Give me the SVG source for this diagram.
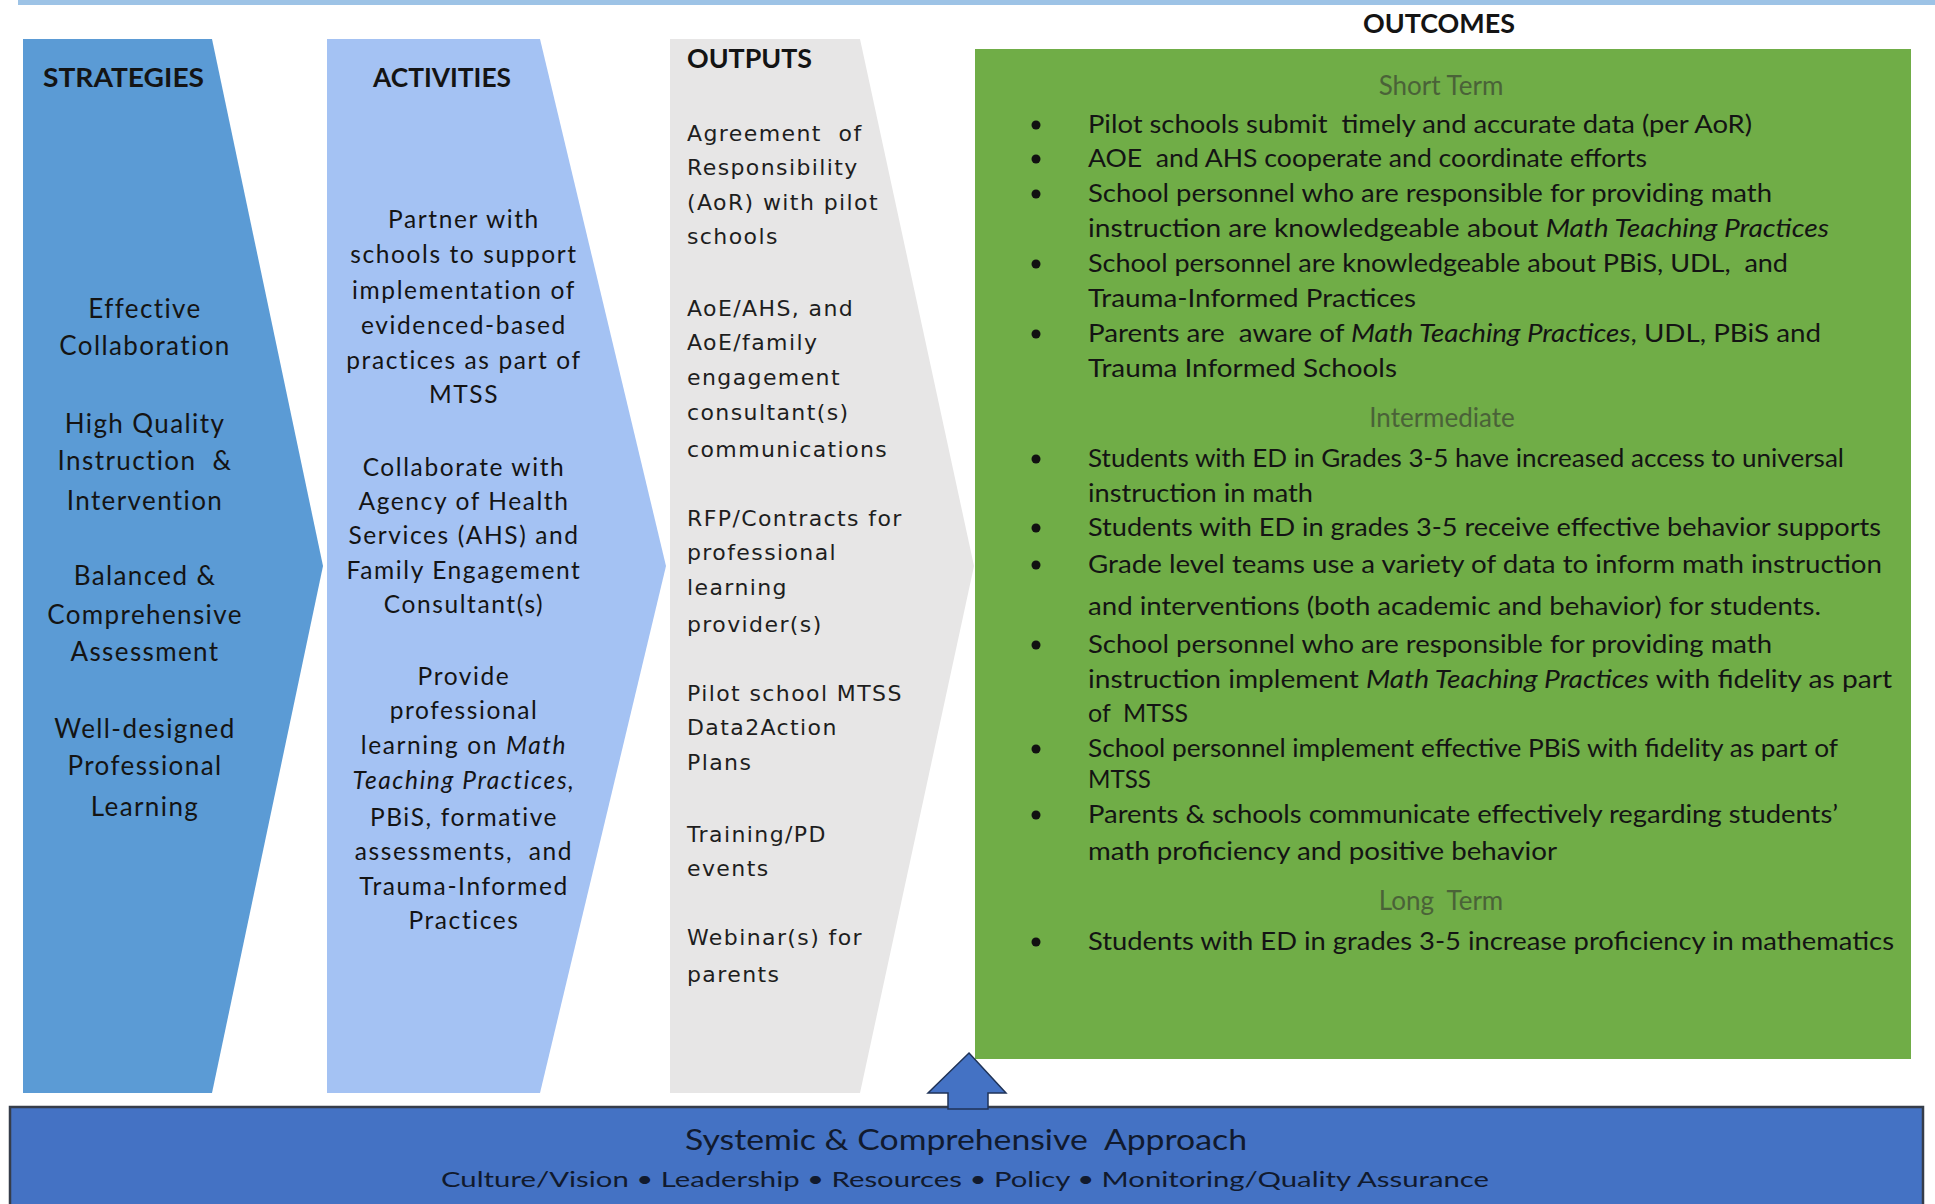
<svg xmlns="http://www.w3.org/2000/svg" width="1935" height="1204" viewBox="0 0 1935 1204">
  <style>
    text { font-family: Lato, "Liberation Sans", sans-serif; fill: #141414; white-space: pre; }
    .head { font-weight: bold; font-size: 26px; }
    .strat { font-size: 26px; text-anchor: middle; letter-spacing: 1.4px; }
    .act { font-size: 24.5px; text-anchor: middle; letter-spacing: 1.6px; }
    .out { font-family: "DejaVu Sans", Verdana, sans-serif; font-size: 22px; letter-spacing: 1.4px; fill: #1e1e1e; }
    .oc { font-size: 25px; }
    .sub { font-size: 26px; text-anchor: middle; fill: #4a6238; }
    .it { font-style: italic; }
    .bul { fill: #111; }
    .base1 { font-size: 29px; fill: #111a2e; }
    .base2 { font-size: 22px; fill: #111a2e; }
  </style>

  <!-- thin banner along the top edge -->
  <rect x="18" y="0" width="1917" height="5" fill="#9dc3e6"/>

  <g id="strategies">
    <polygon points="23,39 212,39 323,566 212,1093 23,1093" fill="#5b9bd5"/>
    <text class="head" x="43" y="87" textLength="161" lengthAdjust="spacingAndGlyphs">STRATEGIES</text>
    <text class="strat" x="145" y="318">Effective</text>
    <text class="strat" x="145" y="355">Collaboration</text>
    <text class="strat" x="145" y="433">High Quality</text>
    <text class="strat" x="145" y="470">Instruction  &amp;</text>
    <text class="strat" x="145" y="510">Intervention</text>
    <text class="strat" x="145" y="585">Balanced &amp;</text>
    <text class="strat" x="145" y="624">Comprehensive</text>
    <text class="strat" x="145" y="661">Assessment</text>
    <text class="strat" x="145" y="738">Well-designed</text>
    <text class="strat" x="145" y="775">Professional</text>
    <text class="strat" x="145" y="816">Learning</text>
  </g>

  <g id="activities">
    <polygon points="327,39 540,39 666,566 540,1093 327,1093" fill="#a4c2f3"/>
    <text class="head" x="373" y="87" textLength="138" lengthAdjust="spacingAndGlyphs">ACTIVITIES</text>
    <text class="act" x="464" y="228">Partner with</text>
    <text class="act" x="464" y="263">schools to support</text>
    <text class="act" x="464" y="299">implementation of</text>
    <text class="act" x="464" y="334">evidenced-based</text>
    <text class="act" x="464" y="369">practices as part of</text>
    <text class="act" x="464" y="403">MTSS</text>
    <text class="act" x="464" y="476">Collaborate with</text>
    <text class="act" x="464" y="510">Agency of Health</text>
    <text class="act" x="464" y="544">Services (AHS) and</text>
    <text class="act" x="464" y="579">Family Engagement</text>
    <text class="act" x="464" y="613">Consultant(s)</text>
    <text class="act" x="464" y="685">Provide</text>
    <text class="act" x="464" y="719">professional</text>
    <text class="act" x="464" y="754">learning on <tspan class="it">Math</tspan></text>
    <text class="act it" x="464" y="789">Teaching Practices,</text>
    <text class="act" x="464" y="826">PBiS, formative</text>
    <text class="act" x="464" y="860">assessments,  and</text>
    <text class="act" x="464" y="895">Trauma-Informed</text>
    <text class="act" x="464" y="929">Practices</text>
  </g>

  <g id="outputs">
    <polygon points="670,39 860,39 974,566 860,1093 670,1093" fill="#e7e6e6"/>
    <text class="head" x="687" y="68" textLength="125" lengthAdjust="spacingAndGlyphs">OUTPUTS</text>
    <text class="out" x="687" y="141">Agreement  of</text>
    <text class="out" x="687" y="175">Responsibility</text>
    <text class="out" x="687" y="210">(AoR) with pilot</text>
    <text class="out" x="687" y="244">schools</text>
    <text class="out" x="687" y="316">AoE/AHS, and</text>
    <text class="out" x="687" y="350">AoE/family</text>
    <text class="out" x="687" y="385">engagement</text>
    <text class="out" x="687" y="420">consultant(s)</text>
    <text class="out" x="687" y="457">communications</text>
    <text class="out" x="687" y="526">RFP/Contracts for</text>
    <text class="out" x="687" y="560">professional</text>
    <text class="out" x="687" y="595">learning</text>
    <text class="out" x="687" y="632">provider(s)</text>
    <text class="out" x="687" y="701">Pilot school MTSS</text>
    <text class="out" x="687" y="735">Data2Action</text>
    <text class="out" x="687" y="770">Plans</text>
    <text class="out" x="687" y="842">Training/PD</text>
    <text class="out" x="687" y="876">events</text>
    <text class="out" x="687" y="945">Webinar(s) for</text>
    <text class="out" x="687" y="982">parents</text>
  </g>

  <g id="outcomes">
    <text class="head" x="1363" y="33" font-size="23" textLength="152" lengthAdjust="spacingAndGlyphs">OUTCOMES</text>
    <rect x="975" y="49" width="936" height="1010" fill="#70ad47"/>

    <text class="sub" x="1441" y="95">Short Term</text>
    <text class="oc" x="1088" y="133" textLength="664" lengthAdjust="spacingAndGlyphs">Pilot schools submit  timely and accurate data (per AoR)</text>
    <text class="oc" x="1088" y="167" textLength="559" lengthAdjust="spacingAndGlyphs">AOE  and AHS cooperate and coordinate efforts</text>
    <text class="oc" x="1088" y="202" textLength="684" lengthAdjust="spacingAndGlyphs">School personnel who are responsible for providing math</text>
    <text class="oc" x="1088" y="237" textLength="741" lengthAdjust="spacingAndGlyphs">instruction are knowledgeable about <tspan class="it">Math Teaching Practices</tspan></text>
    <text class="oc" x="1088" y="272" textLength="700" lengthAdjust="spacingAndGlyphs">School personnel are knowledgeable about PBiS, UDL,  and</text>
    <text class="oc" x="1088" y="307" textLength="328" lengthAdjust="spacingAndGlyphs">Trauma-Informed Practices</text>
    <text class="oc" x="1088" y="342" textLength="733" lengthAdjust="spacingAndGlyphs">Parents are  aware of <tspan class="it">Math Teaching Practices</tspan>, UDL, PBiS and</text>
    <text class="oc" x="1088" y="377" textLength="309" lengthAdjust="spacingAndGlyphs">Trauma Informed Schools</text>

    <text class="sub" x="1442" y="427">Intermediate</text>
    <text class="oc" x="1088" y="467" textLength="756" lengthAdjust="spacingAndGlyphs">Students with ED in Grades 3-5 have increased access to universal</text>
    <text class="oc" x="1088" y="502" textLength="225" lengthAdjust="spacingAndGlyphs">instruction in math</text>
    <text class="oc" x="1088" y="536" textLength="793" lengthAdjust="spacingAndGlyphs">Students with ED in grades 3-5 receive effective behavior supports</text>
    <text class="oc" x="1088" y="573" textLength="794" lengthAdjust="spacingAndGlyphs">Grade level teams use a variety of data to inform math instruction</text>
    <text class="oc" x="1088" y="615" textLength="733" lengthAdjust="spacingAndGlyphs">and interventions (both academic and behavior) for students.</text>
    <text class="oc" x="1088" y="653" textLength="684" lengthAdjust="spacingAndGlyphs">School personnel who are responsible for providing math</text>
    <text class="oc" x="1088" y="688" textLength="804" lengthAdjust="spacingAndGlyphs">instruction implement <tspan class="it">Math Teaching Practices</tspan> with fidelity as part</text>
    <text class="oc" x="1088" y="722" textLength="100" lengthAdjust="spacingAndGlyphs">of  MTSS</text>
    <text class="oc" x="1088" y="757" textLength="750" lengthAdjust="spacingAndGlyphs">School personnel implement effective PBiS with fidelity as part of</text>
    <text class="oc" x="1088" y="788" textLength="63" lengthAdjust="spacingAndGlyphs">MTSS</text>
    <text class="oc" x="1088" y="823" textLength="750" lengthAdjust="spacingAndGlyphs">Parents &amp; schools communicate effectively regarding students’</text>
    <text class="oc" x="1088" y="860" textLength="469" lengthAdjust="spacingAndGlyphs">math proficiency and positive behavior</text>

    <text class="sub" x="1441" y="910">Long  Term</text>
    <text class="oc" x="1088" y="950" textLength="806" lengthAdjust="spacingAndGlyphs">Students with ED in grades 3-5 increase proficiency in mathematics</text>

    <g class="bul">
      <circle cx="1036" cy="125" r="4.5"/>
      <circle cx="1036" cy="159" r="4.5"/>
      <circle cx="1036" cy="194" r="4.5"/>
      <circle cx="1036" cy="264" r="4.5"/>
      <circle cx="1036" cy="334" r="4.5"/>
      <circle cx="1036" cy="459" r="4.5"/>
      <circle cx="1036" cy="528" r="4.5"/>
      <circle cx="1036" cy="565" r="4.5"/>
      <circle cx="1036" cy="645" r="4.5"/>
      <circle cx="1036" cy="749" r="4.5"/>
      <circle cx="1036" cy="815" r="4.5"/>
      <circle cx="1036" cy="942" r="4.5"/>
    </g>
  </g>

  <g id="foundation">
    <rect x="10" y="1107" width="1913" height="110" fill="#4472c4" stroke="#363d4a" stroke-width="2.5"/>
    <text class="base1" x="685" y="1150" textLength="562" lengthAdjust="spacingAndGlyphs">Systemic &amp; Comprehensive  Approach</text>
    <text class="base2" x="441" y="1187" textLength="1048" lengthAdjust="spacingAndGlyphs">Culture/Vision • Leadership • Resources • Policy • Monitoring/Quality Assurance</text>
  </g>

  <g id="connectors">
    <!-- block arrow rising from the foundation into the outcomes panel -->
    <polygon points="969,1053 1006,1093 988,1093 988,1109 948,1109 948,1093 928,1093" fill="#4472c4" stroke="#1f3358" stroke-width="1.5" stroke-linejoin="miter"/>
  </g>
</svg>
